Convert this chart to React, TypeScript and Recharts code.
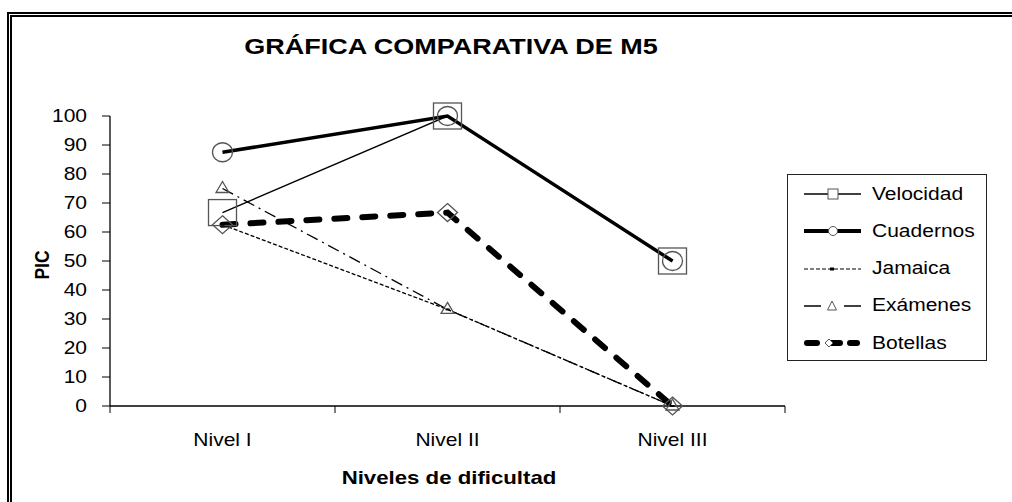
import React from 'react';
import { ComposedChart, Line, XAxis, YAxis } from 'recharts';

const categories = ['Nivel I', 'Nivel II', 'Nivel III'];
const velocidad = [66.7, 100, 50];
const cuadernos = [87.5, 100, 50];
const jamaica = [62.5, 33.3, 0];
const examenes = [75, 33.3, 0];
const botellas = [62.5, 66.7, 0];
const yTicks = [0, 10, 20, 30, 40, 50, 60, 70, 80, 90, 100];

const data = categories.map((nivel, i) => ({
  nivel,
  velocidad: velocidad[i],
  cuadernos: cuadernos[i],
  jamaica: jamaica[i],
  examenes: examenes[i],
  botellas: botellas[i],
}));

// plot box in page pixels
const LEFT = 110;
const RIGHT = 785;
const TOP = 116;
const BOTTOM = 406;
const HALF_BAND = (RIGHT - LEFT) / categories.length / 2;
const SX = 1.2; // the picture is stretched sideways
const FONT = '"Liberation Sans", Arial, sans-serif';
const MARK = '#555';

const SquareDot = ({ cx, cy }: any) => (
  <rect x={cx - 14} y={cy - 13} width={28} height={26} fill="none" stroke={MARK} strokeWidth={1.3} />
);
const CircleDot = ({ cx, cy }: any) => (
  <ellipse cx={cx} cy={cy} rx={10} ry={9.5} fill="none" stroke={MARK} strokeWidth={1.3} />
);
const TinyDot = ({ cx, cy }: any) => <rect x={cx - 2} y={cy - 1} width={4} height={2} fill="#000" />;
const TriangleDot = ({ cx, cy }: any) => (
  <path d={`M${cx},${cy - 7} L${cx + 6.5},${cy + 4} L${cx - 6.5},${cy + 4} Z`} fill="none" stroke={MARK} strokeWidth={1.3} />
);
const DiamondDot = ({ cx, cy }: any) => (
  <path d={`M${cx},${cy - 9} L${cx + 10},${cy} L${cx},${cy + 9} L${cx - 10},${cy} Z`} fill="none" stroke={MARK} strokeWidth={1.3} />
);

const YTick = ({ x, y, payload }: any) => (
  <text
    transform={`translate(${x},${y}) scale(${SX},1)`}
    textAnchor="end"
    dy="0.36em"
    fontFamily={FONT}
    fontSize={17.5}
    fill="#000"
  >
    {payload.value}
  </text>
);

const XTick = ({ payload, index }: any) => {
  const cx = payload.coordinate;
  return (
    <g>
      <line x1={cx - HALF_BAND} x2={cx - HALF_BAND} y1={BOTTOM} y2={BOTTOM + 7} stroke="#000" />
      {index === categories.length - 1 && (
        <line x1={cx + HALF_BAND} x2={cx + HALF_BAND} y1={BOTTOM} y2={BOTTOM + 7} stroke="#000" />
      )}
      <text
        transform={`translate(${cx},${440}) scale(${SX},1)`}
        textAnchor="middle"
        dy="0.36em"
        fontFamily={FONT}
        fontSize={17.5}
        fill="#000"
      >
        {payload.value}
      </text>
    </g>
  );
};

const legendRows = ['Velocidad', 'Cuadernos', 'Jamaica', 'Exámenes', 'Botellas'];

function Sample({ i }: { i: number }) {
  const y = 10;
  if (i === 0)
    return (
      <>
        <line x1={0} x2={57} y1={y} y2={y} stroke="#000" strokeWidth={1.5} />
        <rect x={24} y={y - 5} width={10} height={10} fill="#fff" stroke={MARK} />
      </>
    );
  if (i === 1)
    return (
      <>
        <line x1={0} x2={57} y1={y} y2={y} stroke="#000" strokeWidth={4} />
        <circle cx={29} cy={y} r={4.5} fill="#fff" stroke={MARK} />
      </>
    );
  if (i === 2)
    return (
      <>
        <line x1={0} x2={57} y1={y} y2={y} stroke="#000" strokeWidth={1.2} strokeDasharray="4 2" />
        <rect x={26} y={y - 1.5} width={4} height={3} fill="#000" />
      </>
    );
  if (i === 3)
    return (
      <>
        <line x1={0} x2={17} y1={y} y2={y} stroke="#000" strokeWidth={1.5} />
        <line x1={40} x2={57} y1={y} y2={y} stroke="#000" strokeWidth={1.5} />
        <path d={`M28,${y - 5} L32.5,${y + 4} L23.5,${y + 4} Z`} fill="none" stroke={MARK} />
      </>
    );
  return (
    <>
      <line x1={3} x2={13} y1={y} y2={y} stroke="#000" strokeWidth={6} strokeLinecap="round" />
      <line x1={26} x2={36} y1={y} y2={y} stroke="#000" strokeWidth={6} strokeLinecap="round" />
      <line x1={46} x2={53} y1={y} y2={y} stroke="#000" strokeWidth={6} strokeLinecap="round" />
      <path d={`M25,${y - 4} L29,${y} L25,${y + 4} L21,${y} Z`} fill="#fff" stroke={MARK} />
    </>
  );
}

function LegendBox() {
  return (
    <div
      style={{
        position: 'absolute',
        left: 787,
        top: 174,
        width: 198,
        height: 185,
        border: '1.5px solid #222',
        background: '#fff',
      }}
    >
      {legendRows.map((name, i) => (
        <div key={name} style={{ position: 'absolute', left: 16, top: 9 + i * 37.3, height: 20, display: 'flex', alignItems: 'center' }}>
          <svg width={58} height={20} style={{ overflow: 'visible' }}>
            <Sample i={i} />
          </svg>
          <span
            style={{
              display: 'inline-block',
              marginLeft: 10,
              fontFamily: FONT,
              fontSize: 17.5,
              transform: `scaleX(${SX})`,
              transformOrigin: 'left center',
              whiteSpace: 'nowrap',
            }}
          >
            {name}
          </span>
        </div>
      ))}
    </div>
  );
}

export default function App() {
  return (
    <div style={{ position: 'absolute', left: 0, top: 0, width: 1012, height: 502, background: '#fff', overflow: 'hidden' }}>
      <div
        style={{
          position: 'absolute',
          left: 7,
          top: 12,
          width: 1100,
          height: 600,
          border: '5px double #000',
        }}
      />
      <div
        style={{
          position: 'absolute',
          left: 451,
          top: 47,
          transform: `translate(-50%, -50%) scaleX(${SX})`,
          fontFamily: FONT,
          fontWeight: 'bold',
          fontSize: 22.5,
          whiteSpace: 'nowrap',
        }}
      >
        GRÁFICA COMPARATIVA DE M5
      </div>
      <div
        style={{
          position: 'absolute',
          left: 42,
          top: 265,
          transform: `translate(-50%, -50%) scaleX(${SX}) rotate(-90deg)`,
          fontFamily: FONT,
          fontWeight: 'bold',
          fontSize: 17.5,
        }}
      >
        PIC
      </div>
      <div
        style={{
          position: 'absolute',
          left: 449,
          top: 478,
          transform: `translate(-50%, -50%) scaleX(${SX})`,
          fontFamily: FONT,
          fontWeight: 'bold',
          fontSize: 18.5,
          whiteSpace: 'nowrap',
        }}
      >
        Niveles de dificultad
      </div>
      <div style={{ position: 'absolute', left: 0, top: 0 }}>
        <ComposedChart
          width={1012}
          height={502}
          data={data}
          margin={{ top: TOP, right: 1012 - RIGHT, bottom: 0, left: 0 }}
        >
          <XAxis
            dataKey="nivel"
            height={502 - BOTTOM}
            padding={{ left: HALF_BAND, right: HALF_BAND }}
            axisLine={{ stroke: '#000', strokeWidth: 1.3 }}
            tickLine={false}
            tick={<XTick />}
            interval={0}
          />
          <YAxis
            width={LEFT}
            domain={[0, 100]}
            ticks={yTicks}
            interval={0}
            axisLine={{ stroke: '#000', strokeWidth: 1.3 }}
            tickLine={{ stroke: '#000' }}
            tickSize={8}
            tickMargin={15}
            tick={<YTick />}
          />
          <Line dataKey="velocidad" stroke="#000" strokeWidth={1.5} dot={<SquareDot />} isAnimationActive={false} />
          <Line dataKey="cuadernos" stroke="#000" strokeWidth={3.5} dot={<CircleDot />} isAnimationActive={false} />
          <Line dataKey="jamaica" stroke="#000" strokeWidth={1.3} strokeDasharray="4 2" dot={<TinyDot />} isAnimationActive={false} />
          <Line dataKey="examenes" stroke="#000" strokeWidth={1.3} strokeDasharray="12 5 2 5" dot={<TriangleDot />} isAnimationActive={false} />
          <Line
            dataKey="botellas"
            stroke="#000"
            strokeWidth={6}
            strokeDasharray="13 15"
            strokeLinecap="round"
            dot={<DiamondDot />}
            isAnimationActive={false}
          />
        </ComposedChart>
      </div>
      <LegendBox />
    </div>
  );
}
